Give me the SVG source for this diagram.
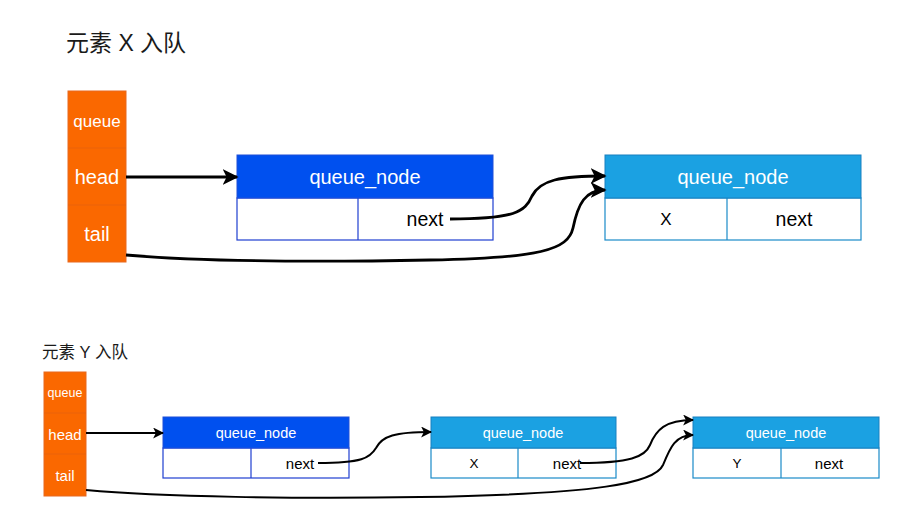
<svg xmlns="http://www.w3.org/2000/svg" width="921" height="520" viewBox="0 0 921 520">
<style>
.t{font-family:"Liberation Sans","Noto Sans CJK SC",sans-serif;text-anchor:middle;dominant-baseline:central}
.w{fill:#ffffff}
.k{fill:#000000}
.title{font-family:"Liberation Sans","Noto Sans CJK SC",sans-serif;fill:#1a1a1a}
.q{fill:#FA6800;stroke:#E8691E;stroke-width:1}
.qd{stroke:#E06010;stroke-width:0.6;fill:none}
.db{fill:#0050EF;stroke:#1F4FD8;stroke-width:1}
.dbb{fill:#ffffff;stroke:#1F3FD0;stroke-width:1.2}
.lb{fill:#1BA1E2;stroke:#1880C0;stroke-width:1}
.lbb{fill:#ffffff;stroke:#1A8AC8;stroke-width:1.2}
.e{fill:none;stroke:#000000}
</style>
<defs>
<marker id="ah" viewBox="0 0 10 10" refX="9" refY="5" markerWidth="11" markerHeight="11" markerUnits="userSpaceOnUse" orient="auto">
<path d="M0,0 L10,5 L0,10 L2.5,5 Z" fill="#000"/>
</marker>
<marker id="ahL" viewBox="0 0 10 10" refX="9" refY="5" markerWidth="16" markerHeight="16" markerUnits="userSpaceOnUse" orient="auto">
<path d="M0,0 L10,5 L0,10 L2.5,5 Z" fill="#000"/>
</marker>
</defs>

<text class="title" x="66" y="51" font-size="23">元素 X 入队</text>
<text class="title" x="42" y="358" font-size="16.5">元素 Y 入队</text>

<g id="queue1">
<rect class="q" x="68" y="91" width="58" height="171"/>
<line class="qd" x1="68" y1="148" x2="126" y2="148"/>
<line class="qd" x1="68" y1="205" x2="126" y2="205"/>
<text class="t w" x="97" y="121" font-size="17">queue</text>
<text class="t w" x="97" y="177" font-size="20">head</text>
<text class="t w" x="97" y="234" font-size="20">tail</text>
</g>

<g id="node1a">
<rect class="dbb" x="237" y="198" width="256" height="42"/>
<line class="dbb" x1="358" y1="198" x2="358" y2="240"/>
<rect class="db" x="237" y="155" width="256" height="43"/>
<text class="t w" x="365" y="177" font-size="20">queue_node</text>
<text class="t k" x="425" y="219" font-size="19.5">next</text>
</g>

<g id="node2a">
<rect class="lbb" x="605" y="198" width="256" height="42"/>
<line class="lbb" x1="727" y1="198" x2="727" y2="240"/>
<rect class="lb" x="605" y="155" width="256" height="43"/>
<text class="t w" x="733" y="177" font-size="20">queue_node</text>
<text class="t k" x="666" y="219" font-size="17">X</text>
<text class="t k" x="794" y="219" font-size="19.5">next</text>
</g>

<g id="queue2">
<rect class="q" x="44" y="372" width="42" height="124"/>
<line class="qd" x1="44" y1="413" x2="86" y2="413"/>
<line class="qd" x1="44" y1="454" x2="86" y2="454"/>
<text class="t w" x="65" y="393" font-size="12.5">queue</text>
<text class="t w" x="65" y="434" font-size="15">head</text>
<text class="t w" x="65" y="475" font-size="15">tail</text>
</g>

<g id="node1b">
<rect class="dbb" x="163" y="448" width="186" height="30"/>
<line class="dbb" x1="251" y1="448" x2="251" y2="478"/>
<rect class="db" x="163" y="417" width="186" height="31"/>
<text class="t w" x="256" y="433" font-size="14.5">queue_node</text>
<text class="t k" x="300" y="463" font-size="15">next</text>
</g>

<g id="node2b">
<rect class="lbb" x="431" y="448" width="185" height="30"/>
<line class="lbb" x1="518" y1="448" x2="518" y2="478"/>
<rect class="lb" x="431" y="417" width="185" height="31"/>
<text class="t w" x="523" y="433" font-size="14.5">queue_node</text>
<text class="t k" x="474" y="463" font-size="13.5">X</text>
<text class="t k" x="567" y="463" font-size="15">next</text>
</g>

<g id="node3b">
<rect class="lbb" x="693" y="448" width="186" height="30"/>
<line class="lbb" x1="781" y1="448" x2="781" y2="478"/>
<rect class="lb" x="693" y="417" width="186" height="31"/>
<text class="t w" x="786" y="433" font-size="14.5">queue_node</text>
<text class="t k" x="737" y="463" font-size="13.5">Y</text>
<text class="t k" x="829" y="463" font-size="15">next</text>
</g>

<g id="connectors">
<path class="e" stroke-width="2.8" d="M126,177 L237,177" marker-end="url(#ahL)"/>
<path class="e" stroke-width="2.8" d="M450,219 C515,219 525,212 532,196 C540,180 560,176 605,176" marker-end="url(#ahL)"/>
<path class="e" stroke-width="2.8" d="M126,255 C210,262 330,262 430,260 C540,258 568,250 573,228 C578,204 585,190 605,190" marker-end="url(#ahL)"/>

<path class="e" stroke-width="1.8" d="M86,433 L163,433" marker-end="url(#ah)"/>
<path class="e" stroke-width="2" d="M318,463 C362,463 370,458 376,448 C382,436 395,432 431,432" marker-end="url(#ah)"/>
<path class="e" stroke-width="2" d="M580,463 C630,463 645,457 650,445 C656,430 665,420 693,420" marker-end="url(#ah)"/>
<path class="e" stroke-width="2" d="M86,490 C160,497 300,499 420,497 C600,494 655,483 663,465 C670,448 675,435 693,435" marker-end="url(#ah)"/>
</g>
</svg>
